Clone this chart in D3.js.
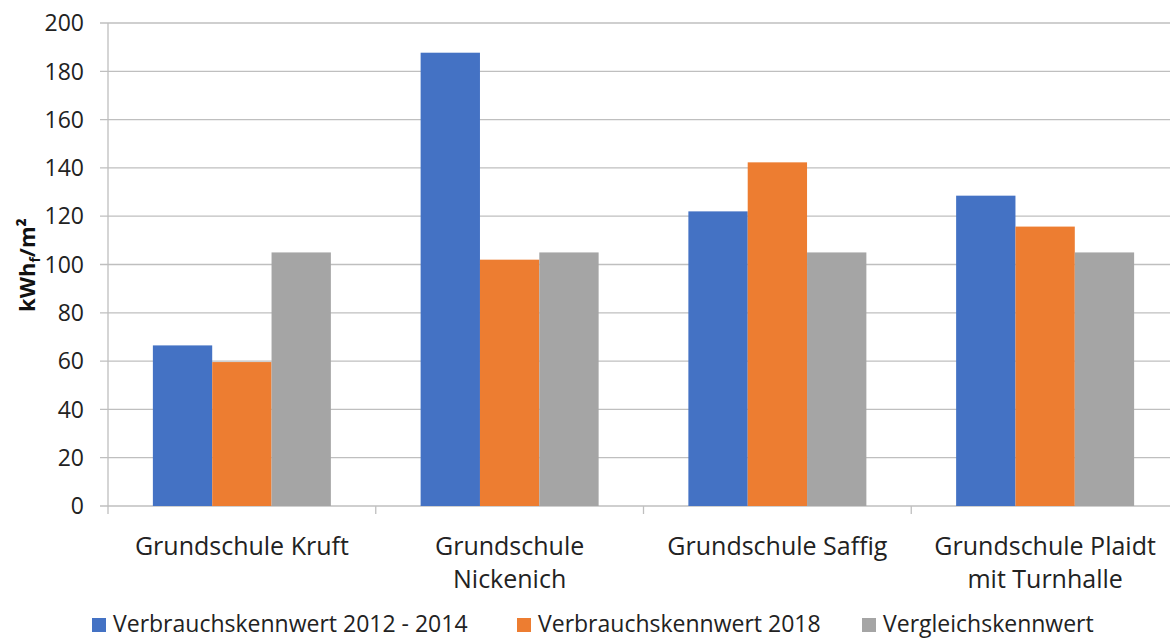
<!DOCTYPE html>
<html><head><meta charset="utf-8">
<script src="https://cdn.jsdelivr.net/npm/d3@7/dist/d3.min.js"></script>
<style>body{margin:0;background:#fff}svg{display:block;font-family:"Open Sans",sans-serif}</style>
</head><body>
<svg id="c" width="1170" height="639"></svg>
<script>
const categories = [["Grundschule Kruft"], ["Grundschule", "Nickenich"], ["Grundschule Saffig"], ["Grundschule Plaidt", "mit Turnhalle"]];
const seriesNames = ["Verbrauchskennwert 2012 - 2014", "Verbrauchskennwert 2018", "Vergleichskennwert"];
const values2012 = [66.5, 187.7, 122, 128.5];
const values2018 = [59.6, 102, 142.3, 115.7];
const valuesRef = [105, 105, 105, 105];
const colors = ["#4472c4", "#ed7d31", "#a5a5a5"];
const yTicks = [0, 20, 40, 60, 80, 100, 120, 140, 160, 180, 200];

(function() {
const series = [values2012, values2018, valuesRef];
const svg = d3.select("#c");
const mLeft = 108, mRight = 1179, mTop = 23, mBottom = 506;
const x = d3.scaleBand().domain(d3.range(categories.length)).range([mLeft, mRight]);
const y = d3.scaleLinear().domain([0, 200]).range([mBottom, mTop]);
const inner = d3.scaleBand().domain(d3.range(series.length)).range([0, 178]);

// gridlines
svg.append("g").selectAll("line").data(yTicks).join("line")
  .attr("x1", mLeft - 8).attr("x2", 1170)
  .attr("y1", d => y(d)).attr("y2", d => y(d))
  .attr("stroke", "#bfbfbf").attr("stroke-width", 1.3);

// y tick labels
svg.append("g").selectAll("text").data(yTicks).join("text")
  .attr("x", 84).attr("y", d => y(d)).attr("dy", "0.36em")
  .attr("text-anchor", "end").attr("font-size", 23).attr("fill", "#222")
  .text(d => d);

// y axis line
svg.append("line").attr("x1", mLeft).attr("x2", mLeft).attr("y1", mTop).attr("y2", mBottom + 8)
  .attr("stroke", "#bfbfbf").attr("stroke-width", 1.3);
// x category ticks
svg.append("g").selectAll("line").data(d3.range(1, categories.length + 1)).join("line")
  .attr("x1", d => mLeft + d * x.bandwidth()).attr("x2", d => mLeft + d * x.bandwidth())
  .attr("y1", mBottom).attr("y2", mBottom + 8)
  .attr("stroke", "#bfbfbf").attr("stroke-width", 1.3);

// bars
series.forEach((vals, si) => {
  svg.append("g").selectAll("rect").data(vals).join("rect")
    .attr("x", (d, i) => x(i) + (x.bandwidth() - 178) / 2 + inner(si))
    .attr("width", inner.bandwidth())
    .attr("y", d => y(d)).attr("height", d => y(0) - y(d))
    .attr("fill", colors[si]);
});

// category labels
const cl = svg.append("g").selectAll("text").data(categories).join("text")
  .attr("x", (d, i) => x(i) + x.bandwidth() / 2).attr("y", 555)
  .attr("text-anchor", "middle").attr("font-size", 25).attr("fill", "#222");
cl.selectAll("tspan").data(d => d).join("tspan")
  .attr("x", function() { return d3.select(this.parentNode).attr("x"); })
  .attr("dy", (d, i) => i === 0 ? 0 : 33).text(d => d);

// y axis title
svg.append("text").attr("transform", "translate(35,265) rotate(-90)")
  .attr("text-anchor", "middle").attr("font-size", 22).attr("font-weight", "bold").attr("fill", "#111")
  .html('kWh<tspan font-size="14" dy="5">f</tspan><tspan dy="-5">/m²</tspan>');

// legend
const legX = [92, 517, 862];
const lg = svg.append("g").selectAll("g").data(seriesNames).join("g")
  .attr("transform", (d, i) => `translate(${legX[i]},632)`);
lg.append("rect").attr("x", 0).attr("y", -14).attr("width", 14).attr("height", 14)
  .attr("fill", (d, i) => colors[i]);
lg.append("text").attr("x", 21).attr("y", 0).attr("font-size", 23).attr("fill", "#222").text(d => d);
})();
</script>
</body></html>
